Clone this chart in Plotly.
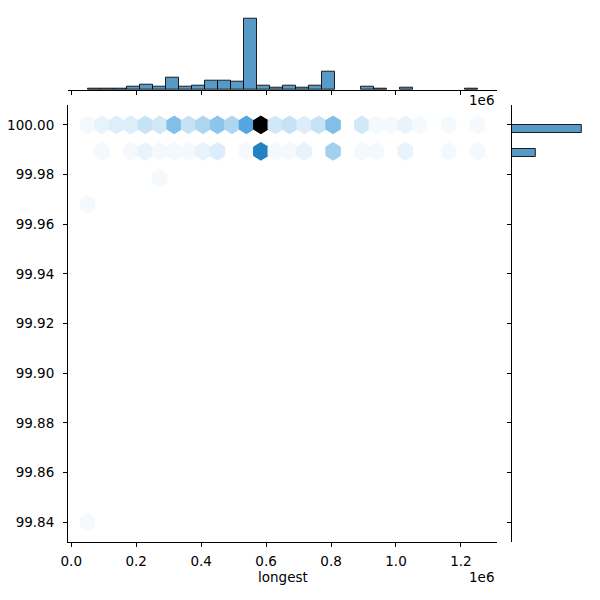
import colorsys
import numpy as np
import plotly.graph_objects as go

# ---------------- data ----------------
# hexbin samples: longest (bp) with counts, one list per identity value (%)
identity_values = [100.00, 99.99, 99.98, 99.97, 99.84]
longest_by_identity = [
    [50000, 94500, 139000, 183400, 227900, 272400, 316900, 361400, 405900, 450300,
     494800, 539300, 583800, 628300, 672700, 717200, 761700, 806200, 895100, 939600,
     984100, 1028600, 1073100, 1162000, 1251000],
    [94500, 183400, 227900, 272400, 316900, 361400, 405900, 450300, 539300, 583800,
     628300, 672700, 717200, 806200, 895100, 939600, 1028600, 1162000, 1251000],
    [272400],
    [50000],
    [50000],
]
counts_by_identity = [
    [1, 2, 3, 3, 5, 4, 11, 5, 7, 10, 7, 15, 38, 4, 5, 3, 5, 11, 4, 1, 1, 2, 1, 1, 1],
    [1, 1, 2, 1, 1, 1, 2, 3, 1, 21, 1, 1, 2, 8, 1, 1, 2, 1, 1],
    [1],
    [1],
    [1],
]
# marginal histogram of "longest" (30 equal bins between min and max)
longest_hist_counts = [1, 1, 2, 4, 6, 4, 14, 4, 5, 10, 10, 9, 80, 5, 3, 5, 3, 5, 20, 0,
                       0, 4, 1, 0, 3, 0, 0, 0, 0, 1]
x_tick_values = [0.0, 0.2, 0.4, 0.6, 0.8, 1.0, 1.2]
y_tick_values = [99.84, 99.86, 99.88, 99.90, 99.92, 99.94, 99.96, 99.98, 100.00]

# ---------------- style ----------------
FONT = "DejaVu Sans"
FS = 13.5
BASE = (31 / 255, 119 / 255, 180 / 255)  # C0
GRIDSIZE = 27
Y_BINS = 50

xs = np.concatenate([np.array(v, float) for v in longest_by_identity])
ys = np.concatenate([np.full(len(v), iv) for v, iv in zip(longest_by_identity, identity_values)])
ws = np.concatenate([np.array(c, float) for c in counts_by_identity])

xmin, xmax = xs.min(), xs.max()
ymin, ymax = ys.min(), ys.max()
nx = GRIDSIZE
ny = int(nx / np.sqrt(3))
sx = (xmax - xmin) / nx
sy = (ymax - ymin) / ny

# matplotlib-like hexbin assignment
ix = (xs - xmin) / sx
iy = (ys - ymin) / sy
ix1 = np.round(ix); iy1 = np.round(iy)
ix2 = np.floor(ix); iy2 = np.floor(iy)
d1 = (ix - ix1) ** 2 + 3.0 * (iy - iy1) ** 2
d2 = (ix - ix2 - 0.5) ** 2 + 3.0 * (iy - iy2 - 0.5) ** 2
cells = {}
for k in range(len(xs)):
    if d1[k] < d2[k]:
        key = (1, ix1[k], iy1[k])
        cx, cy = xmin + ix1[k] * sx, ymin + iy1[k] * sy
    else:
        key = (2, ix2[k], iy2[k])
        cx, cy = xmin + (ix2[k] + 0.5) * sx, ymin + (iy2[k] + 0.5) * sy
    if key not in cells:
        cells[key] = [cx, cy, 0.0]
    cells[key][2] += ws[k]

vmax = max(c[2] for c in cells.values())

h, l0, s = colorsys.rgb_to_hls(*BASE)
pal = [colorsys.hls_to_rgb(h, l, s) for l in np.linspace(1, 0, 12)]


def cmap(f):
    f = min(max(f, 0.0), 1.0)
    p = f * (len(pal) - 1)
    i = int(np.floor(p))
    if i >= len(pal) - 1:
        c = pal[-1]
    else:
        t = p - i
        c = tuple(pal[i][j] * (1 - t) + pal[i + 1][j] * t for j in range(3))
    return "rgb(%d,%d,%d)" % tuple(int(round(v * 255)) for v in c)


hex_dx = np.array([0.5, 0.5, 0.0, -0.5, -0.5, 0.0, 0.5]) * sx
hex_dy = np.array([-0.5, 0.5, 1.0, 0.5, -0.5, -1.0, -0.5]) * sy / 3

fig = go.Figure()
for key in sorted(cells):
    cx, cy, cnt = cells[key]
    col = cmap(cnt / vmax)
    fig.add_trace(go.Scatter(
        x=cx + hex_dx, y=cy + hex_dy, mode="lines", fill="toself",
        fillcolor=col, line=dict(color=col, width=1),
        hoverinfo="skip", showlegend=False, xaxis="x", yaxis="y"))

# top marginal histogram
edges = np.linspace(xmin, xmax, len(longest_hist_counts) + 1)
centers = (edges[:-1] + edges[1:]) / 2
bw = edges[1] - edges[0]
hc = np.array(longest_hist_counts)
m = hc > 0
BAR_FILL = "rgba(31,119,180,0.75)"
BAR_EDGE = "rgba(0,0,0,0.85)"
fig.add_trace(go.Bar(
    x=centers[m], y=hc[m], width=bw, marker=dict(color=BAR_FILL, line=dict(color=BAR_EDGE, width=1)),
    xaxis="x2", yaxis="y2", showlegend=False, hoverinfo="skip"))

# right marginal histogram
yc, yedges = np.histogram(ys, bins=Y_BINS, range=(ymin, ymax), weights=ws)
ycent = (yedges[:-1] + yedges[1:]) / 2
ybw = yedges[1] - yedges[0]
mm = yc > 0
fig.add_trace(go.Bar(
    y=ycent[mm], x=yc[mm], width=ybw, orientation="h",
    marker=dict(color=BAR_FILL, line=dict(color=BAR_EDGE, width=1)),
    xaxis="x3", yaxis="y3", showlegend=False, hoverinfo="skip"))

W = H = 600.0
xdom = [68 / W, 497 / W]
ydom = [1 - 542 / H, 1 - 105 / H]
R = xmax - xmin
xr = [xmin - 0.05 * R, xmax + 0.05 * R]
RY = ymax - ymin
yr = [ymin - 0.05 * RY, ymax + 0.05 * RY]

axis_common = dict(showgrid=False, zeroline=False, showline=True, linecolor="black", linewidth=1,
                   ticks="outside", ticklen=4, tickwidth=1, tickcolor="black", automargin=False,
                   tickfont=dict(family=FONT, size=FS, color="black"))

fig.update_layout(
    width=600, height=600, margin=dict(l=0, r=0, t=0, b=0, autoexpand=False),
    paper_bgcolor="white", plot_bgcolor="white", bargap=0,
    xaxis=dict(domain=xdom, range=xr, anchor="y", ticklabelstandoff=3,
               tickvals=[v * 1e6 for v in x_tick_values],
               ticktext=["%.1f" % v for v in x_tick_values], **axis_common),
    yaxis=dict(domain=ydom, range=yr, anchor="x", ticklabelstandoff=6,
               tickvals=y_tick_values, ticktext=["%.2f" % v for v in y_tick_values], **axis_common),
    xaxis2=dict(domain=xdom, range=xr, anchor="y2", matches="x",
                tickvals=[v * 1e6 for v in x_tick_values], showticklabels=False, **axis_common),
    yaxis2=dict(domain=[1 - 90 / H, 1 - 14.7 / H], range=[0, 1.05 * hc.max()], anchor="x2",
                visible=False, automargin=False),
    xaxis3=dict(domain=[511.8 / W, 585.8 / W], range=[0, 1.05 * yc.max()], anchor="y3",
                visible=False, automargin=False),
    yaxis3=dict(domain=ydom, range=yr, anchor="x3", matches="y",
                tickvals=y_tick_values, showticklabels=False, **axis_common),
    annotations=[
        dict(text="longest", xref="paper", yref="paper", x=282.5 / W, y=1 - 577 / H,
             xanchor="center", yanchor="middle", showarrow=False,
             font=dict(family=FONT, size=FS, color="black")),
        dict(text="1e6", xref="paper", yref="paper", x=496 / W, y=1 - 577 / H,
             xanchor="right", yanchor="middle", showarrow=False,
             font=dict(family=FONT, size=FS, color="black")),
        dict(text="1e6", xref="paper", yref="paper", x=496 / W, y=1 - 100 / H,
             xanchor="right", yanchor="middle", showarrow=False,
             font=dict(family=FONT, size=FS, color="black")),
        dict(text="percent_identity", xref="paper", yref="paper", x=-9 / W, y=1 - 323.5 / H,
             xanchor="center", yanchor="middle", textangle=-90, showarrow=False,
             font=dict(family=FONT, size=FS, color="black")),
    ],
)

fig.write_html("out.html")
